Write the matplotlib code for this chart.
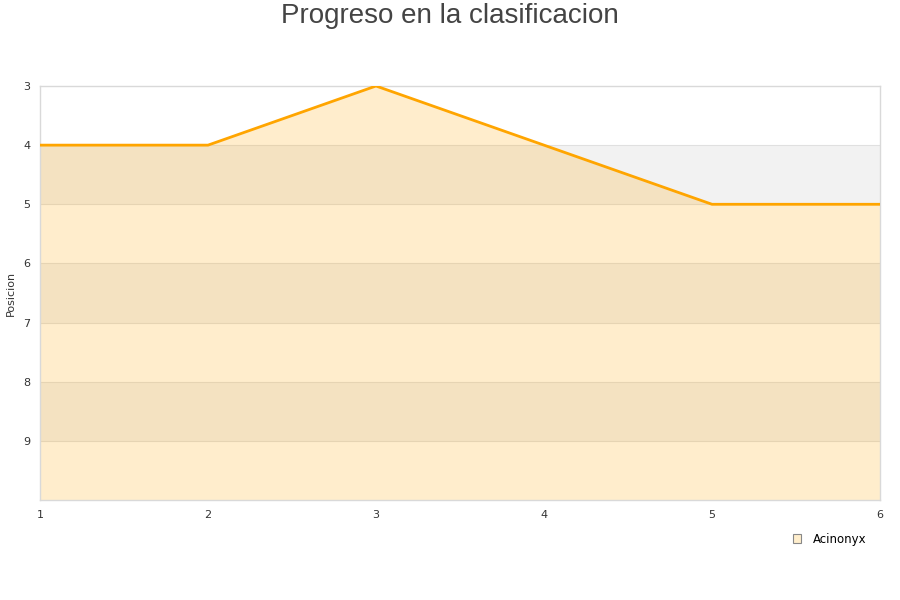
import matplotlib
matplotlib.use("Agg")
import matplotlib.pyplot as plt
from matplotlib.patches import Patch

jornadas = [1, 2, 3, 4, 5, 6]
posicion = [4, 4, 3, 4, 5, 5]
serie = "Acinonyx"
titulo = "Progreso en la clasificacion"
y_label = "Posicion"
y_ticks = [3, 4, 5, 6, 7, 8, 9]

fig = plt.figure(figsize=(9, 6), dpi=100)
ax = fig.add_axes([40/900, 1-500/600, 840/900, 414/600])

ymin, ymax = 3, 10
# alternating background bands
for i, lo in enumerate(range(ymin, ymax)):
    if i % 2 == 1:
        ax.axhspan(lo, lo+1, color="#f2f2f2", zorder=0, lw=0)
for v in range(ymin+1, ymax):
    ax.axhline(v, color="#e0e0e0", lw=0.8, zorder=1)

ax.fill_between(jornadas, posicion, ymax, color="#ffa500", alpha=0.2, lw=0, zorder=2)
ax.plot(jornadas, posicion, color="#ffa500", lw=2.0, zorder=3, solid_capstyle="butt")

ax.set_xlim(1, 6)
ax.set_ylim(ymax, ymin)
ax.set_yticks(y_ticks)
ax.set_xticks(jornadas)
ax.tick_params(length=0, labelsize=8, colors="#333333")
ax.tick_params(axis="x", pad=7)
ax.tick_params(axis="y", pad=7)
for s in ax.spines.values():
    s.set_color("#d9d9d9")
    s.set_linewidth(1)
ax.set_ylabel(y_label, fontsize=8, color="#333333")
ax.yaxis.set_label_coords(-24/840, 0.5)

fig.text(0.5, 1-16/600, titulo, ha="center", va="center", fontsize=20,
         color="#444444", family="Liberation Sans")

handle = Patch(facecolor="#ffeecc", edgecolor="#888888", lw=0.8)
fig.legend([handle], [serie], loc="center left", bbox_to_anchor=(788/900, 1-539/600),
           frameon=False, fontsize=8.5, handlelength=0.7, handleheight=0.7,
           handletextpad=1.0, borderaxespad=0)

fig.savefig("out.png", dpi=100)
